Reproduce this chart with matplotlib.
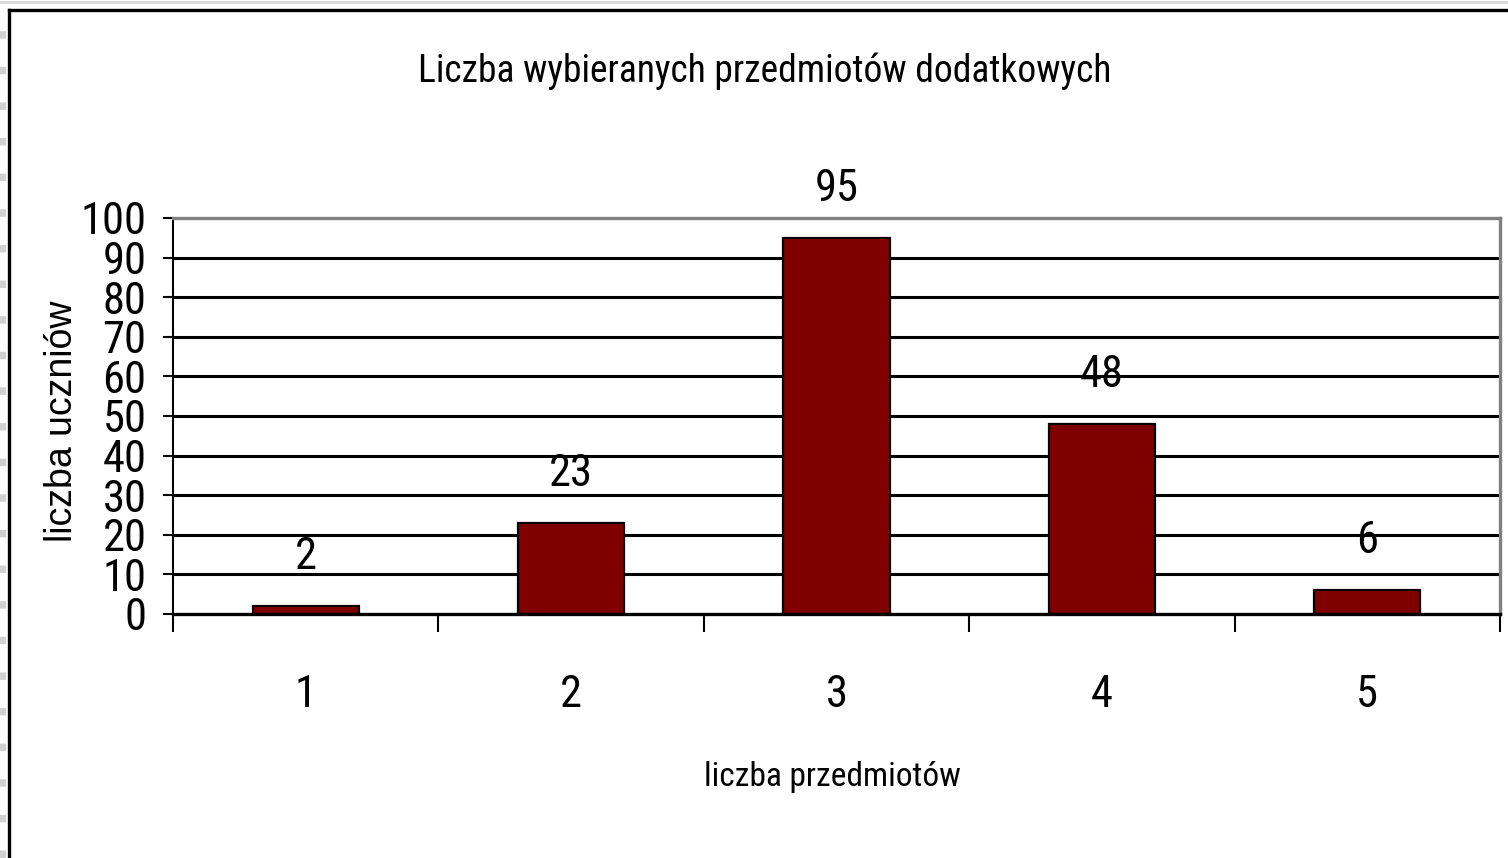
import matplotlib
matplotlib.use("Agg")
import matplotlib.pyplot as plt
from matplotlib import font_manager
from matplotlib.lines import Line2D

categories = ["1", "2", "3", "4", "5"]
values = [2, 23, 95, 48, 6]
yticks = [0, 10, 20, 30, 40, 50, 60, 70, 80, 90, 100]
title = "Liczba wybieranych przedmiotów dodatkowych"
xlabel = "liczba przedmiotów"
ylabel = "liczba uczniów"

fonts = font_manager.fontManager.ttflist
names = {f.name for f in fonts}
NARROW = None
STRETCH = "normal"
for cand in ["Liberation Sans Narrow", "Roboto Condensed", "Open Sans Condensed",
             "Arial Narrow"]:
    if cand in names:
        NARROW = cand
        break
if NARROW is None:
    for f in fonts:
        if ("Narrow" in f.name or "Condensed" in f.name) and "Mono" not in f.name \
                and "Serif" not in f.name:
            NARROW = f.name
            break
if NARROW is None:
    cond = [f for f in fonts if f.name == "DejaVu Sans" and f.stretch in
            ("condensed", 300, "semi-condensed") and f.style == "normal"]
    if cond:
        NARROW = "DejaVu Sans"
        STRETCH = "condensed"
    else:
        NARROW = "Liberation Sans"
REG = "Liberation Sans"
NF = dict(fontfamily=NARROW, fontstretch=STRETCH)

W, H = 1508, 858
fig = plt.figure(figsize=(W / 100, H / 100), dpi=100)
ax = fig.add_axes([173 / W, 1 - 614 / H, (1500 - 173) / W, (614 - 218) / H])

x = list(range(len(categories)))
bars = ax.bar(x, values, width=0.4, color="#800000", edgecolor="black",
              linewidth=1.6, zorder=3)

ax.set_xlim(-0.5, len(categories) - 0.5)
ax.set_ylim(0, 100)
ax.set_yticks(yticks)
ax.set_yticklabels([str(t) for t in yticks], fontsize=32, **NF)
ax.set_xticks(x)
ax.set_xticklabels(categories, fontsize=32, **NF)
ax.set_xticks([i - 0.5 for i in range(len(categories) + 1)], minor=True)
ax.tick_params(axis="x", which="major", length=0, pad=43)
ax.tick_params(axis="x", which="minor", length=13, width=1.5, direction="out")
ax.tick_params(axis="y", which="major", length=7, width=1.5, pad=12, direction="out")

for yv in yticks[1:-1]:
    ax.axhline(yv, color="black", linewidth=2.2, zorder=1)

for s in ["top", "right"]:
    ax.spines[s].set_color("#808080")
    ax.spines[s].set_linewidth(2.4)
ax.spines["left"].set_color("black")
ax.spines["left"].set_linewidth(1.5)
ax.spines["bottom"].set_color("black")
ax.spines["bottom"].set_linewidth(2.4)
ax.spines["bottom"].set_zorder(4)

for b, v in zip(bars, values):
    ax.annotate(str(v), (b.get_x() + b.get_width() / 2, v), xytext=(0, 20),
                textcoords="offset points", ha="center", va="bottom",
                fontsize=32, **NF)

fig.text(765 / W, 1 - 71 / H, title, ha="center", va="center",
         fontsize=27, **NF)
fig.text(832 / W, 1 - 777 / H, xlabel, ha="center", va="center",
         fontsize=24, **NF)
fig.text(62 / W, 1 - 421 / H, ylabel, ha="center", va="center", rotation=90,
         fontfamily=REG, fontsize=27)

# outer frame decorations
fig.add_artist(Line2D([9 / W, 1], [1 - 10 / H, 1 - 10 / H], color="black", linewidth=2.4,
                      transform=fig.transFigure))
fig.add_artist(Line2D([9 / W, 9 / W], [0, 1 - 10 / H], color="black", linewidth=2.4,
                      transform=fig.transFigure))
fig.add_artist(Line2D([0, 1], [1 - 2 / H, 1 - 2 / H], color="#d8d8d8", linewidth=2,
                      transform=fig.transFigure))
fig.add_artist(Line2D([3 / W, 3 / W], [0, 1 - 20 / H], color="#d0d0d0", linewidth=4.5,
                      linestyle=(0, (1.2, 4.5)), transform=fig.transFigure))

fig.savefig("out.png", dpi=100)
